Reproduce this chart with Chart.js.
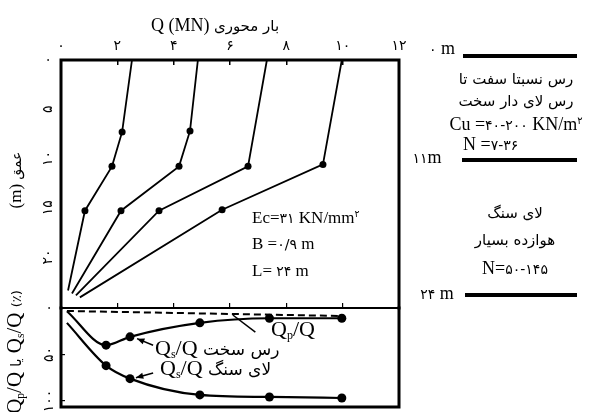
<!DOCTYPE html>
<html>
<head>
<meta charset="utf-8">
<script src="https://cdn.jsdelivr.net/npm/chart.js@4.4.0/dist/chart.umd.min.js"></script>
<style>
  body { margin: 0; background: #fff; }
  #wrap { position: relative; width: 597px; height: 412px; overflow: hidden; color: #000;
          font-family: "Liberation Serif", "DejaVu Sans", serif; }
  canvas { position: absolute; left: 0; }
  .t { position: absolute; white-space: nowrap; line-height: 1; transform: translate(-50%, -50%); }
  .l { position: absolute; white-space: nowrap; line-height: 1; transform: translate(0, -50%); }
  .fa { font-family: "DejaVu Sans", sans-serif; }
  .rot { transform: translate(-50%, -50%) rotate(-90deg); }
  .bar { position: absolute; height: 4px; background: #000; }
  sub { font-size: 55%; vertical-align: -0.25em; }
  sup { font-size: 55%; vertical-align: 0.6em; }
</style>
</head>
<body>
<div id="wrap">
  <canvas id="topChart" width="597" height="310" style="top:0"></canvas>
  <canvas id="botChart" width="597" height="122" style="top:290px"></canvas>

  <div class="t" style="left:215px;top:25px;font-size:18px">Q (MN) <span class="fa" style="font-size:15px">بار محوری</span></div>
  <div class="t rot" style="left:15px;top:180px;font-size:17px">(m) <span class="fa" style="font-size:14px">عمق</span></div>
  <div class="t rot" style="left:15px;top:352px;font-size:21px">Q<sub>p</sub>/Q <span class="fa" style="font-size:14px">یا</span> Q<sub>s</sub>/Q <span class="fa" style="font-size:13px">(٪)</span></div>

  <div class="l" style="left:252px;top:217px;font-size:17px">Ec=<span class="fa" style="font-size:14px">۳۱</span> KN/mm<sup class="fa">۲</sup></div>
  <div class="l" style="left:252px;top:243px;font-size:17px">B =<span class="fa" style="font-size:14px">۰/۹</span> m</div>
  <div class="l" style="left:252px;top:270px;font-size:17px">L= <span class="fa" style="font-size:14px">۲۴</span> m</div>

  <div class="t" style="left:293px;top:330px;font-size:22px">Q<sub>p</sub>/Q</div>
  <div class="l" style="left:155px;top:349px;font-size:22px">Q<sub>s</sub>/Q <span class="fa" style="font-size:17px">رس سخت</span></div>
  <div class="l" style="left:160px;top:369px;font-size:22px">Q<sub>s</sub>/Q <span class="fa" style="font-size:17px">لای سنگ</span></div>

  <div class="t" style="left:442px;top:48px;font-size:18px"><span class="fa" style="font-size:14px">۰</span> m</div>
  <div class="bar" style="left:463px;top:54px;width:114px"></div>
  <div class="t fa" style="left:516px;top:79px;font-size:15px">رس نسبتا سفت تا</div>
  <div class="t fa" style="left:516px;top:101px;font-size:15px">رس لای دار سخت</div>
  <div class="t" style="left:516px;top:124px;font-size:18px">Cu =<span class="fa" style="font-size:14px">۴۰-۲۰۰</span> KN/m<sup class="fa">۲</sup></div>
  <div class="l" style="left:463px;top:144px;font-size:18px">N =<span class="fa" style="font-size:14px">۷-۳۶</span></div>
  <div class="t" style="left:427px;top:157px;font-size:18px"><span class="fa" style="font-size:14px">۱۱</span>m</div>
  <div class="bar" style="left:462px;top:158px;width:115px"></div>
  <div class="t fa" style="left:515px;top:213px;font-size:15px">لای سنگ</div>
  <div class="t fa" style="left:515px;top:240px;font-size:15px">هوازده بسیار</div>
  <div class="t" style="left:515px;top:268px;font-size:18px">N=<span class="fa" style="font-size:14px">۵۰-۱۴۵</span></div>
  <div class="t" style="left:437px;top:293px;font-size:18px"><span class="fa" style="font-size:14px">۲۴</span> m</div>
  <div class="bar" style="left:465px;top:293px;width:112px"></div>
</div>

<script>
// tick values
const loadTicks = [0, 2, 4, 6, 8, 10, 12];
const depthTicks = [0, 5, 10, 15, 20];
const pctTicks = [0, 50, 100];

// load (MN) against depth (m), one curve per load step
const load1 = [2.52, 2.17, 1.81, 0.85, 0.25];
const depth1 = [0, 7.3, 10.8, 15.3, 23.4];
const load2 = [4.86, 4.58, 4.19, 2.13, 0.39];
const depth2 = [0, 7.2, 10.8, 15.3, 23.7];
const load3 = [7.31, 6.64, 3.48, 0.53];
const depth3 = [0, 10.8, 15.3, 23.9];
const load4 = [9.97, 9.3, 5.72, 0.67];
const depth4 = [0, 10.6, 15.2, 24.1];

// share of load (%) against head load (MN)
const ratioLoad = [0.21, 1.6, 2.45, 4.93, 7.4, 9.97];
const qsClay = [3.5, 40, 31, 16, 11, 11];
const qsRock = [16, 62, 76, 93.5, 95.7, 96.8];
const qpLoad = [0.21, 9.97];
const qpRatio = [3.2, 8.6];

const fa = n => String(n).replace(/\d/g, d => '۰۱۲۳۴۵۶۷۸۹'[d]);
const pts = (xs, ys) => xs.map((x, i) => ({ x: x, y: ys[i] }));
const tickFont = { family: 'DejaVu Sans', size: 14 };

// keep the plot box exactly where the layout padding puts it
function fixHeight(h) {
    return s => { s.height = h; s.paddingLeft = 0; s.paddingRight = 0; };
}
function fixWidth(w) {
    return s => { s.width = w; s.paddingTop = 0; s.paddingBottom = 0; };
}

// draws the thick box around the plot area
const frame = {
    id: 'frame',
    afterDraw(chart, args, opts) {
        const ctx = chart.ctx;
        const a = chart.chartArea;
        ctx.save();
        ctx.strokeStyle = '#000';
        ctx.lineWidth = 3;
        ctx.lineCap = 'square';
        ctx.beginPath();
        if (opts.top) { ctx.moveTo(a.left, a.top); ctx.lineTo(a.right, a.top); }
        if (opts.bottom) { ctx.moveTo(a.left, a.bottom); ctx.lineTo(a.right, a.bottom); }
        ctx.moveTo(a.left, a.top); ctx.lineTo(a.left, a.bottom);
        ctx.moveTo(a.right, a.top); ctx.lineTo(a.right, a.bottom);
        ctx.stroke();
        ctx.restore();
    }
};

// leader lines from the labels to the curves (in data units)
const pointers = [
    { from: [3.27, 40], to: [2.7, 33], head: true },
    { from: [3.27, 70], to: [2.66, 75], head: true },
    { from: [6.1, 7.5], to: [6.9, 26], head: false }
];

const leaders = {
    id: 'leaders',
    afterDraw(chart) {
        const ctx = chart.ctx;
        const sx = chart.scales.x, sy = chart.scales.y;
        ctx.save();
        ctx.strokeStyle = '#000';
        ctx.fillStyle = '#000';
        ctx.lineWidth = 1.5;
        pointers.forEach(p => {
            const x1 = sx.getPixelForValue(p.from[0]), y1 = sy.getPixelForValue(p.from[1]);
            const x2 = sx.getPixelForValue(p.to[0]), y2 = sy.getPixelForValue(p.to[1]);
            ctx.beginPath();
            ctx.moveTo(x1, y1);
            ctx.lineTo(x2, y2);
            ctx.stroke();
            if (p.head) {
                const ang = Math.atan2(y2 - y1, x2 - x1);
                ctx.beginPath();
                ctx.moveTo(x2, y2);
                ctx.lineTo(x2 - 8 * Math.cos(ang - 0.4), y2 - 8 * Math.sin(ang - 0.4));
                ctx.lineTo(x2 - 8 * Math.cos(ang + 0.4), y2 - 8 * Math.sin(ang + 0.4));
                ctx.closePath();
                ctx.fill();
            }
        });
        ctx.restore();
    }
};

function depthSet(xs, ys) {
    return {
        data: pts(xs, ys),
        borderColor: '#000',
        backgroundColor: '#000',
        borderWidth: 1.8,
        tension: 0,
        pointRadius: xs.map((v, i) => (i === 0 || i === xs.length - 1) ? 0 : 3.5),
        pointBorderWidth: 0
    };
}

new Chart(document.getElementById('topChart'), {
    type: 'line',
    data: {
        datasets: [
            depthSet(load1, depth1),
            depthSet(load2, depth2),
            depthSet(load3, depth3),
            depthSet(load4, depth4)
        ]
    },
    options: {
        responsive: false,
        animation: false,
        layout: { padding: { left: 0, top: 0, right: 198, bottom: 2 } },
        plugins: { legend: { display: false }, tooltip: { enabled: false }, frame: { top: true } },
        scales: {
            x: {
                type: 'linear', position: 'top', min: 0, max: 12,
                afterBuildTicks: s => { s.ticks = loadTicks.map(v => ({ value: v })); },
                afterFit: fixHeight(60),
                border: { display: false },
                grid: { drawOnChartArea: false, tickLength: -5, color: '#000', lineWidth: 1.5 },
                ticks: { padding: 10, color: '#000', font: tickFont, maxRotation: 0, autoSkip: false, callback: v => fa(v) }
            },
            y: {
                type: 'linear', reverse: true, min: 0, max: 25.18,
                afterBuildTicks: s => { s.ticks = depthTicks.map(v => ({ value: v })); },
                afterFit: fixWidth(61),
                border: { display: false },
                grid: { display: false, drawTicks: false },
                ticks: { minRotation: 90, maxRotation: 90, crossAlign: 'center', padding: 5, color: '#000', font: tickFont, autoSkip: false, callback: v => fa(v) }
            }
        }
    },
    plugins: [frame]
});

new Chart(document.getElementById('botChart'), {
    type: 'line',
    data: {
        datasets: [
            {
                data: pts(qpLoad, qpRatio),
                borderColor: '#000',
                borderWidth: 2,
                borderDash: [7, 4],
                pointRadius: 0
            },
            {
                data: pts(ratioLoad, qsClay),
                borderColor: '#000',
                backgroundColor: '#000',
                borderWidth: 2.2,
                cubicInterpolationMode: 'monotone',
                pointRadius: ratioLoad.map((v, i) => i === 0 ? 0 : 4.5),
                pointBorderWidth: 0
            },
            {
                data: pts(ratioLoad, qsRock),
                borderColor: '#000',
                backgroundColor: '#000',
                borderWidth: 2.2,
                cubicInterpolationMode: 'monotone',
                pointRadius: ratioLoad.map((v, i) => i === 0 ? 0 : 4.5),
                pointBorderWidth: 0
            }
        ]
    },
    options: {
        responsive: false,
        animation: false,
        layout: { padding: { left: 0, top: 0, right: 198, bottom: 5 } },
        plugins: { legend: { display: false }, tooltip: { enabled: false }, frame: { bottom: true } },
        scales: {
            x: {
                type: 'linear', position: 'top', min: 0, max: 12,
                afterBuildTicks: s => { s.ticks = loadTicks.map(v => ({ value: v })); },
                afterFit: fixHeight(18),
                border: { display: true, color: '#000', width: 2 },
                grid: { drawOnChartArea: false, tickLength: 5, color: '#000', lineWidth: 1.2 },
                ticks: { display: false }
            },
            y: {
                type: 'linear', reverse: true, min: 0, max: 106.5,
                afterBuildTicks: s => { s.ticks = pctTicks.map(v => ({ value: v })); },
                afterFit: fixWidth(61),
                border: { display: false },
                grid: { drawOnChartArea: false, tickLength: -4, color: '#000', lineWidth: 1.2 },
                ticks: { minRotation: 90, maxRotation: 90, crossAlign: 'center', padding: 4, color: '#000', font: tickFont, autoSkip: false, callback: v => fa(v) }
            }
        }
    },
    plugins: [frame, leaders]
});
</script>
</body>
</html>
